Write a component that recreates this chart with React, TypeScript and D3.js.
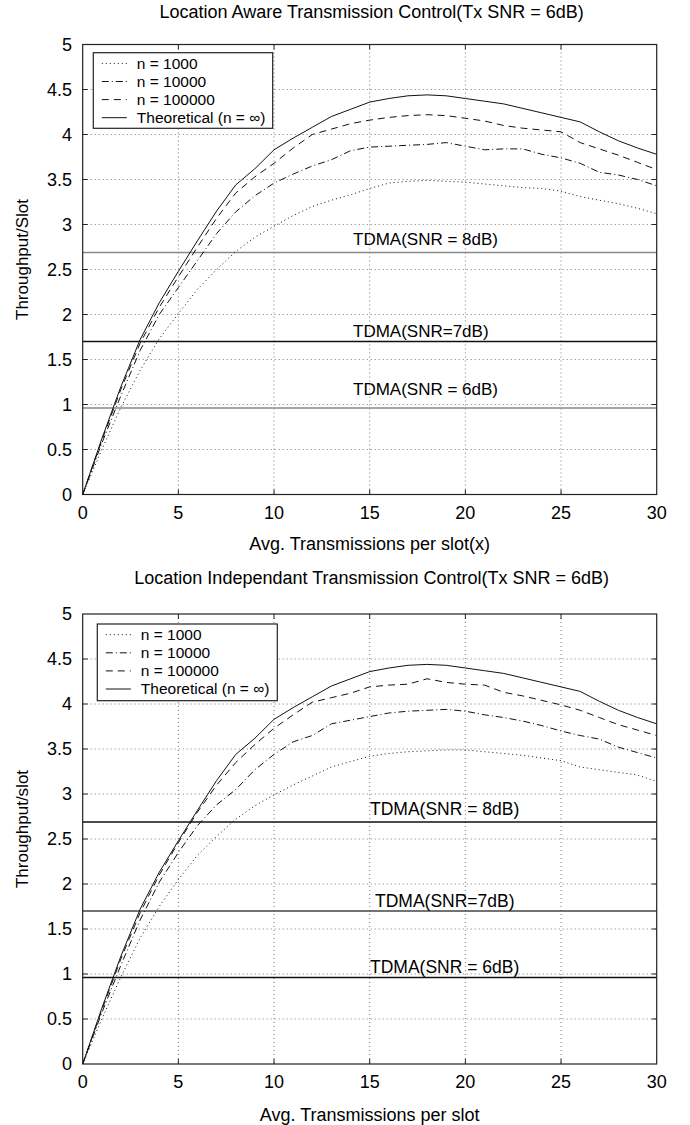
import React from 'react';
import * as d3 from 'd3';

// x positions (avg. transmissions per slot)
const xs = [0, 1, 2, 3, 4, 5, 6, 7, 8, 9, 10, 11, 12, 13, 14, 15, 16, 17, 18, 19, 20, 21, 22, 23, 24, 25, 26, 27, 28, 29, 30];

// theoretical curve, same in both panels
const theoretical = [0, 0.62, 1.2, 1.72, 2.13, 2.48, 2.82, 3.15, 3.44, 3.62, 3.83, 3.96, 4.08, 4.2, 4.28, 4.36, 4.4, 4.43, 4.44, 4.43, 4.4, 4.37, 4.34, 4.29, 4.24, 4.19, 4.14, 4.03, 3.93, 3.85, 3.78];

// location aware (top)
const awareN1000 = [0, 0.5, 0.97, 1.38, 1.73, 2.01, 2.28, 2.5, 2.7, 2.86, 2.98, 3.1, 3.2, 3.27, 3.33, 3.4, 3.46, 3.48, 3.49, 3.48, 3.47, 3.45, 3.43, 3.41, 3.4, 3.37, 3.31, 3.27, 3.23, 3.18, 3.12];
const awareN10000 = [0, 0.57, 1.1, 1.6, 2.0, 2.3, 2.6, 2.9, 3.14, 3.32, 3.46, 3.56, 3.65, 3.72, 3.82, 3.86, 3.87, 3.88, 3.89, 3.91, 3.87, 3.83, 3.84, 3.84, 3.78, 3.74, 3.68, 3.58, 3.55, 3.5, 3.43];
const awareN100000 = [0, 0.6, 1.17, 1.68, 2.08, 2.42, 2.75, 3.07, 3.35, 3.53, 3.68, 3.85, 4.0, 4.06, 4.12, 4.16, 4.19, 4.21, 4.22, 4.21, 4.18, 4.15, 4.1, 4.07, 4.05, 4.03, 3.91, 3.84, 3.77, 3.69, 3.61];

// location independant (bottom)
const indepN1000 = [0, 0.5, 0.97, 1.4, 1.75, 2.05, 2.32, 2.53, 2.72, 2.87, 2.99, 3.1, 3.2, 3.3, 3.36, 3.42, 3.45, 3.47, 3.48, 3.49, 3.49, 3.47, 3.45, 3.43, 3.4, 3.37, 3.3, 3.27, 3.24, 3.21, 3.14];
const indepN10000 = [0, 0.57, 1.1, 1.6, 2.02, 2.35, 2.65, 2.88, 3.05, 3.27, 3.44, 3.58, 3.65, 3.78, 3.82, 3.86, 3.9, 3.92, 3.93, 3.94, 3.92, 3.88, 3.85, 3.81, 3.76, 3.7, 3.65, 3.61, 3.52, 3.46, 3.4];
const indepN100000 = [0, 0.6, 1.17, 1.68, 2.1, 2.46, 2.8, 3.1, 3.35, 3.55, 3.73, 3.88, 4.02, 4.07, 4.12, 4.19, 4.21, 4.22, 4.28, 4.24, 4.22, 4.21, 4.13, 4.09, 4.04, 3.99, 3.93, 3.85, 3.77, 3.71, 3.65];

const legendLabels = ['n = 1000', 'n = 10000', 'n = 100000', 'Theoretical (n = \u221e)'];
const dashes = ['1,3', '7,3,1,3', '7,5', null];

const tdmaValues = [2.69, 1.7, 0.96];
const tdmaLabels = ['TDMA(SNR = 8dB)', 'TDMA(SNR=7dB)', 'TDMA(SNR = 6dB)'];

const xTicks = [0, 5, 10, 15, 20, 25, 30];
const yTicks = [0, 0.5, 1, 1.5, 2, 2.5, 3, 3.5, 4, 4.5, 5];

const FONT = '"Liberation Sans", Arial, Helvetica, sans-serif';
const LEFT = 82.7;
const RIGHT = 656.7;
const INK = '#000';

const Panel = ({ top, titleY, title, ylabel, xlabel, xlabelDy, series, tdmaColors, tdmaLabelX, tdmaLabelDy, tdmaFont, legendBox }) => {
  const x = d3.scaleLinear().domain([0, 30]).range([LEFT, RIGHT]);
  const y = d3.scaleLinear().domain([0, 5]).range([top + 450, top]);
  const line = d3.line().x((d) => x(d[0])).y((d) => y(d[1]));
  const bottom = y(0);

  return (
    <g>
      <text x={(LEFT + RIGHT) / 2 + 2} y={titleY} textAnchor="middle" dy="0.35em" fontSize={18} fill={INK}>{title}</text>

      {/* grid */}
      {xTicks.slice(1, -1).map((t) => (
        <line key={'gx' + t} x1={x(t)} x2={x(t)} y1={top} y2={bottom} stroke="#777" strokeWidth={1} strokeDasharray="1,3" />
      ))}
      {yTicks.slice(1, -1).map((t) => (
        <line key={'gy' + t} x1={LEFT} x2={RIGHT} y1={y(t)} y2={y(t)} stroke="#777" strokeWidth={1} strokeDasharray="1,3" />
      ))}

      {/* TDMA reference lines */}
      {tdmaValues.map((v, i) => (
        <g key={'td' + i}>
          <line x1={LEFT} x2={RIGHT} y1={y(v)} y2={y(v)} stroke={tdmaColors[i]} strokeWidth={1.5} />
          <text x={tdmaLabelX[i]} y={y(v) - tdmaLabelDy[i]} dy="0.35em" fontSize={tdmaFont} fill={INK}>{tdmaLabels[i]}</text>
        </g>
      ))}

      {/* curves */}
      {series.map((s, i) => (
        <path key={'s' + i} d={line(xs.map((xv, j) => [xv, s[j]]))} fill="none" stroke="#111" strokeWidth={1}
          strokeDasharray={dashes[i] || undefined} />
      ))}

      {/* frame + ticks */}
      <rect x={LEFT} y={top} width={RIGHT - LEFT} height={450} fill="none" stroke="#222" strokeWidth={1.2} />
      {xTicks.slice(1, -1).map((t) => (
        <g key={'tx' + t}>
          <line x1={x(t)} x2={x(t)} y1={bottom} y2={bottom - 5} stroke="#222" />
          <line x1={x(t)} x2={x(t)} y1={top} y2={top + 5} stroke="#222" />
        </g>
      ))}
      {yTicks.slice(1, -1).map((t) => (
        <g key={'ty' + t}>
          <line x1={LEFT} x2={LEFT + 5} y1={y(t)} y2={y(t)} stroke="#222" />
          <line x1={RIGHT} x2={RIGHT - 5} y1={y(t)} y2={y(t)} stroke="#222" />
        </g>
      ))}
      {xTicks.map((t) => (
        <text key={'lx' + t} x={x(t)} y={bottom + 18} dy="0.35em" textAnchor="middle" fontSize={18} fill={INK}>{t}</text>
      ))}
      {yTicks.map((t) => (
        <text key={'ly' + t} x={72} y={y(t)} dy="0.35em" textAnchor="end" fontSize={18} fill={INK}>{t}</text>
      ))}

      <text x={(LEFT + RIGHT) / 2} y={bottom + xlabelDy} dy="0.35em" textAnchor="middle" fontSize={18} fill={INK}>{xlabel}</text>
      <text transform={`translate(22,${top + 215}) rotate(-90)`} dy="0.35em" textAnchor="middle" fontSize={17} fill={INK}>{ylabel}</text>

      {/* legend */}
      <g transform={`translate(${legendBox.x},${legendBox.y})`}>
        <rect width={legendBox.w} height={legendBox.h} fill="#fff" stroke="#222" strokeWidth={1.2} />
        {legendLabels.map((lab, i) => (
          <g key={'lg' + i} transform={`translate(0,${10.7 + i * 18.1})`}>
            <line x1={8.5} x2={33.5} y1={0} y2={0} stroke="#111" strokeWidth={1} strokeDasharray={dashes[i] || undefined} />
            <text x={43.5} dy="0.35em" fontSize={15.5} fill={INK}>{lab}</text>
          </g>
        ))}
      </g>
    </g>
  );
};

export default function App() {
  return (
    <svg width={690} height={1125} style={{ position: 'absolute', left: 0, top: 0, background: '#fff' }} fontFamily={FONT}>
      <rect width={690} height={1125} fill="#fff" />
      <Panel
        top={44.5}
        titleY={12}
        title="Location Aware Transmission Control(Tx SNR = 6dB)"
        ylabel="Throughput/Slot"
        xlabel="Avg. Transmissions per slot(x)"
        xlabelDy={49}
        series={[awareN1000, awareN10000, awareN100000, theoretical]}
        tdmaColors={['#888', '#111', '#888']}
        tdmaLabelX={[353, 353, 353]}
        tdmaLabelDy={[13, 10.6, 19]}
        tdmaFont={17}
        legendBox={{ x: 93.3, y: 52.7, w: 179.4, h: 75.6 }}
      />
      <Panel
        top={614}
        titleY={578}
        title="Location Independant Transmission Control(Tx SNR = 6dB)"
        ylabel="Throughput/slot"
        xlabel="Avg. Transmissions per slot"
        xlabelDy={51}
        series={[indepN1000, indepN10000, indepN100000, theoretical]}
        tdmaColors={['#111', '#444', '#111']}
        tdmaLabelX={[370, 375, 370]}
        tdmaLabelDy={[12.7, 10, 11]}
        tdmaFont={17.5}
        legendBox={{ x: 97.3, y: 624, w: 180, h: 76.7 }}
      />
    </svg>
  );
}
